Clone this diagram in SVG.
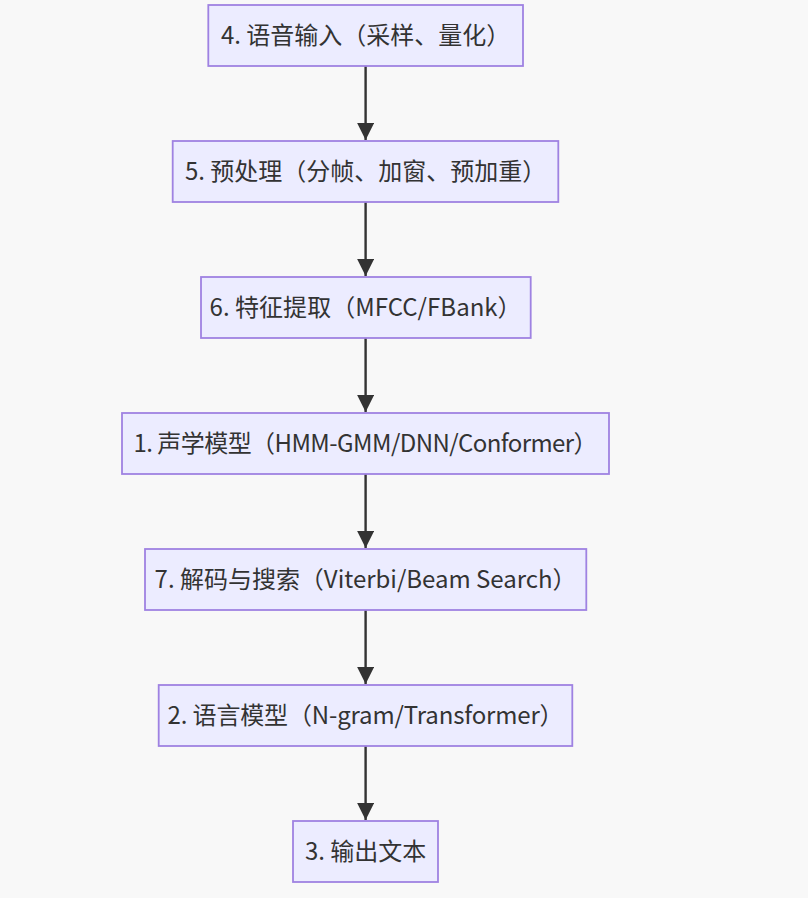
<svg xmlns="http://www.w3.org/2000/svg" width="808" height="898" viewBox="0 0 808 898">
  <defs>
    <style>
      .node rect { fill: #ECECFF; stroke: #9F82E2; stroke-width: 1.8; }
      .node text { font-family: "Noto Sans CJK SC", "Noto Sans", sans-serif; font-size: 24px; fill: #333333; text-anchor: middle; }
      .edge { stroke: #333333; stroke-width: 2.4; fill: none; }
    </style>
    <marker id="arrow" viewBox="0 0 10 10" refX="10" refY="5" markerUnits="userSpaceOnUse" markerWidth="17" markerHeight="17" orient="auto">
      <path d="M0,0 L10,5 L0,10 z" fill="#333333"/>
    </marker>
  </defs>
  <rect x="0" y="0" width="808" height="898" fill="#f8f8f8"/>
  <g id="edges">
    <path class="edge" d="M365.6,66 L365.6,140" marker-end="url(#arrow)"/>
    <path class="edge" d="M365.6,202 L365.6,276" marker-end="url(#arrow)"/>
    <path class="edge" d="M365.6,338 L365.6,412" marker-end="url(#arrow)"/>
    <path class="edge" d="M365.6,474 L365.6,548" marker-end="url(#arrow)"/>
    <path class="edge" d="M365.6,610 L365.6,684" marker-end="url(#arrow)"/>
    <path class="edge" d="M365.6,746 L365.6,820" marker-end="url(#arrow)"/>
  </g>
  <g id="node4" class="node">
    <rect x="208.3" y="5" width="314.7" height="61"/>
    <text x="365.6" y="43.5">4. 语音输入（采样、量化）</text>
  </g>
  <g id="node5" class="node">
    <rect x="172.7" y="141" width="385.6" height="61"/>
    <text x="365.6" y="179.5">5. 预处理（分帧、加窗、预加重）</text>
  </g>
  <g id="node6" class="node">
    <rect x="201" y="277" width="329.7" height="61"/>
    <text x="365.6" y="315.5" textLength="312" lengthAdjust="spacing">6. 特征提取（MFCC/FBank）</text>
  </g>
  <g id="node1" class="node">
    <rect x="122" y="413" width="487" height="61"/>
    <text x="365.6" y="451.5" textLength="464" lengthAdjust="spacing">1. 声学模型（HMM-GMM/DNN/Conformer）</text>
  </g>
  <g id="node7" class="node">
    <rect x="145" y="549" width="441.3" height="61"/>
    <text x="365.6" y="587.5" textLength="422" lengthAdjust="spacing">7. 解码与搜索（Viterbi/Beam Search）</text>
  </g>
  <g id="node2" class="node">
    <rect x="158.7" y="685" width="413.6" height="61"/>
    <text x="365.6" y="723.5" textLength="396" lengthAdjust="spacing">2. 语言模型（N-gram/Transformer）</text>
  </g>
  <g id="node3" class="node">
    <rect x="293" y="821" width="145" height="61"/>
    <text x="365.6" y="859.5">3. 输出文本</text>
  </g>
</svg>
